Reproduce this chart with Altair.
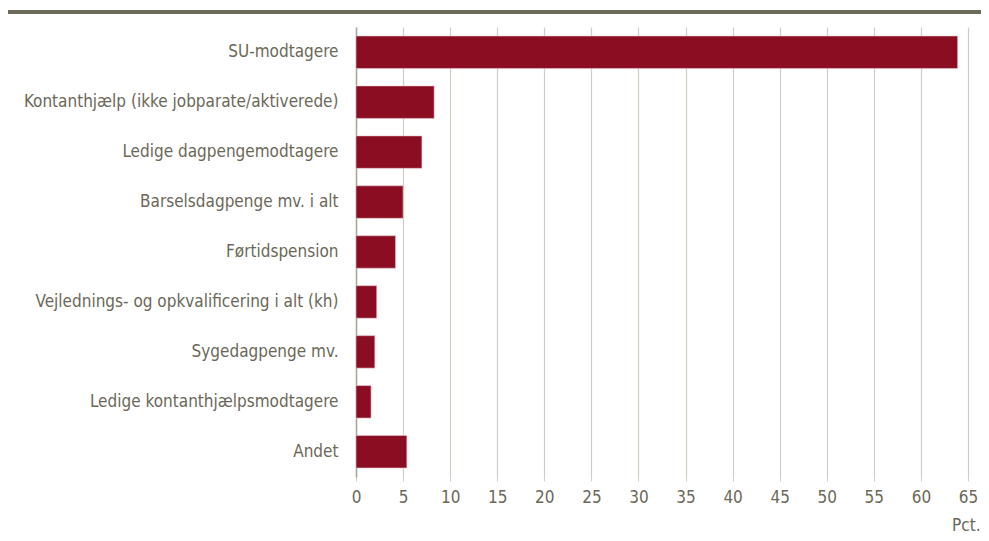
import altair as alt
import pandas as pd

categories = [
    "SU-modtagere",
    "Kontanthjælp (ikke jobparate/aktiverede)",
    "Ledige dagpengemodtagere",
    "Barselsdagpenge mv. i alt",
    "Førtidspension",
    "Vejlednings- og opkvalificering i alt (kh)",
    "Sygedagpenge mv.",
    "Ledige kontanthjælpsmodtagere",
    "Andet",
]
values = [63.9, 8.3, 7.0, 5.0, 4.2, 2.2, 2.0, 1.6, 5.4]
x_ticks = list(range(0, 70, 5))

df = pd.DataFrame({"cat": categories, "val": values})

FONT = "DejaVu Sans Condensed, Liberation Sans, sans-serif"
FS = 17
TXT = "#6b6858"
W, H = 612, 450
PAD_L, PAD_T = 348, 19

bars = alt.Chart(df).mark_bar(color="#8a0d22", stroke="#e8c8cc", strokeWidth=0.6).encode(
    x=alt.X("val:Q", scale=alt.Scale(domain=[0, 65], nice=False),
            axis=alt.Axis(values=x_ticks, grid=True, gridColor="#cfcdc4", gridWidth=1.2,
                          domain=False, ticks=True, tickColor="#cfcdc4", tickSize=4,
                          labelFlush=False,
                          labelFont=FONT, labelFontSize=FS, labelColor=TXT, labelPadding=8,
                          title="Pct.", titleFont=FONT, titleFontSize=FS, titleFontWeight="normal",
                          titleColor=TXT, titleX=624, titleY=57, titleAlign="right",
                          titleBaseline="bottom")),
    y=alt.Y("cat:N", sort=categories, scale=alt.Scale(paddingInner=0.35, paddingOuter=0.18),
            axis=alt.Axis(title=None, domain=True, domainColor="#aaa797", domainWidth=1.5,
                          ticks=False, labelFont=FONT, labelFontSize=FS, labelColor=TXT,
                          labelPadding=18, labelLimit=400)),
)

topline = alt.Chart(df).mark_rule(color="#6e6b5a", strokeWidth=3).encode(
    x=alt.value(-PAD_L), x2=alt.value(W + 40), y=alt.value(-15)
)

chart = (bars + topline).properties(
    width=W, height=H,
    autosize=alt.AutoSizeParams(type="none"),
    padding={"left": PAD_L, "top": PAD_T, "right": 13, "bottom": 56},
).configure_view(stroke=None)

chart.save("out.html", embed_options={"renderer": "svg", "actions": False})
